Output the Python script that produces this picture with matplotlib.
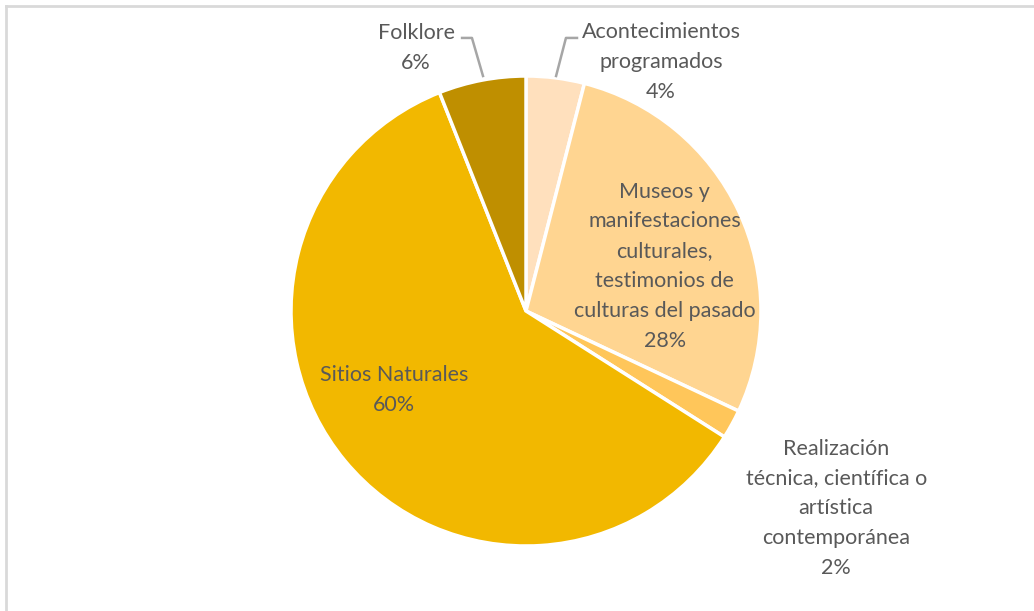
import matplotlib.pyplot as plt
from matplotlib.lines import Line2D

plt.rcParams['font.family'] = ['Lato', 'DejaVu Sans']

# Slices, clockwise from 12 o'clock
labels = ['Acontecimientos\nprogramados',
          'Museos y\nmanifestaciones\nculturales,\ntestimonios de\nculturas del pasado',
          'Realización\ntécnica, científica o\nartística\ncontemporánea',
          'Sitios Naturales',
          'Folklore']
shares = [4, 28, 2, 60, 6]
colors = ['#FFE0BD', '#FFD591', '#FFC65A', '#F2B800', '#BF8F00']

# label block centres in pie units (radius = 1)
label_pos = [(0.575, 1.06), (0.59, 0.19), (1.32, -0.84), (-0.56, -0.335), (-0.468, 1.12)]

fig = plt.figure(figsize=(10.34, 6.11), dpi=100)
fig.patch.set_facecolor('white')

# thin grey frame along the top and left edges
fig.add_artist(Line2D([6 / 1034, 6 / 1034], [0, 1 - 6 / 611], color='#D9D9D9', lw=2,
                      transform=fig.transFigure))
fig.add_artist(Line2D([6 / 1034, 1], [1 - 6 / 611, 1 - 6 / 611], color='#D9D9D9', lw=2,
                      transform=fig.transFigure))

cx, cy, r = 526, 311, 235
W, H = 1034, 611
ax = fig.add_axes([(cx - r) / W, (H - cy - r) / H, 2 * r / W, 2 * r / H])
ax.set_aspect('equal')
ax.axis('off')

ax.pie(shares, colors=colors, startangle=90, counterclock=False, radius=1,
       wedgeprops=dict(edgecolor='white', linewidth=2.5))
ax.set_xlim(-1, 1)
ax.set_ylim(-1, 1)

for lab, val, (x, y) in zip(labels, shares, label_pos):
    ax.text(x, y, f'{lab}\n{val}%', ha='center', va='center', fontsize=15.5,
            color='#595959', linespacing=1.62, clip_on=False)

# leader lines for the two small top slices
ax.plot([-0.272, -0.23, -0.183], [1.162, 1.162, 1.0], color='#A6A6A6', lw=1.8,
        clip_on=False)
ax.plot([0.217, 0.17, 0.128], [1.162, 1.162, 1.0], color='#A6A6A6', lw=1.8,
        clip_on=False)

fig.savefig('out.png', dpi=100, facecolor='white')
